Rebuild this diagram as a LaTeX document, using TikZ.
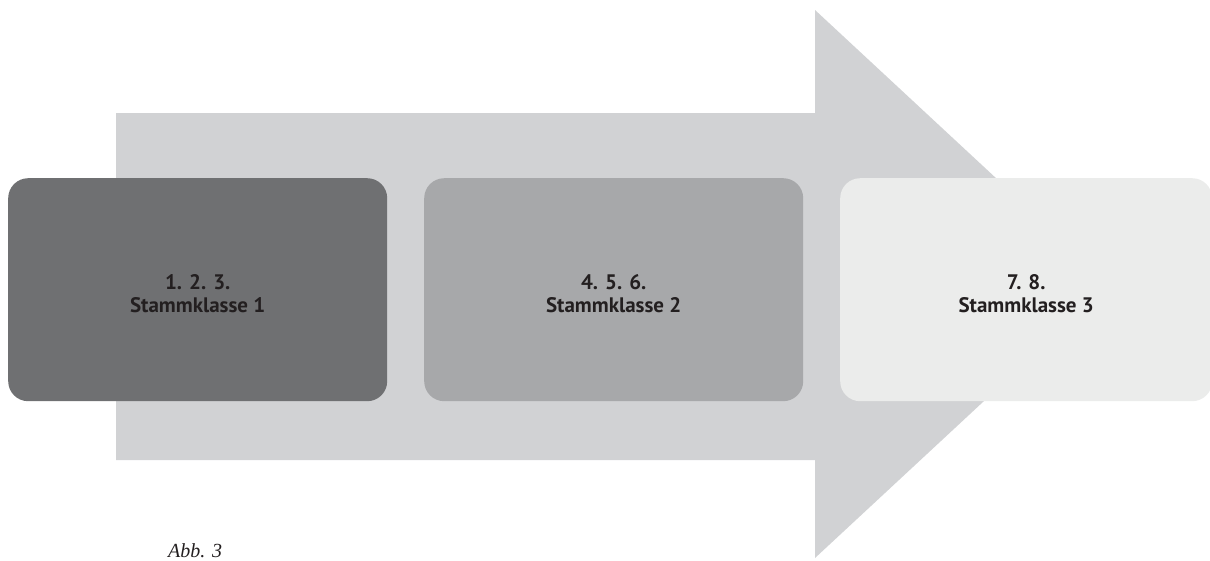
\documentclass[tikz,border=0pt]{standalone}
\usepackage{fontspec}
\setsansfont{PT Sans}
\newfontfamily\capfont{Liberation Serif}
\definecolor{arrowgray}{HTML}{D1D2D4}
\definecolor{boxA}{HTML}{6F7072}
\definecolor{boxB}{HTML}{A7A8AA}
\definecolor{boxC}{HTML}{EBECEB}
\definecolor{txt}{HTML}{231F20}
\tikzset{
  stagebox/.style={rounded corners=20pt, minimum width=379pt, minimum height=223pt,
    inner sep=0pt, anchor=north west},
  stagetext/.style={inner sep=0pt, align=center, text=txt,
    font=\sffamily\bfseries\fontsize{21}{23}\selectfont},
}
\begin{document}
\begin{tikzpicture}[x=1pt,y=-1pt]
\useasboundingbox (0,0) rectangle (1210,560);
\begin{scope}
\clip (0,0) rectangle (1210,560);
\fill[arrowgray] (116,113) -- (815,113) -- (815,10) -- (1110,284) -- (815,558) -- (815,460) -- (116,460) -- cycle;
\node[stagebox, fill=boxA] (s1) at (8,178) {};
\node[stagebox, fill=boxB] (s2) at (424,178) {};
\node[stagebox, fill=boxC, minimum width=372pt] (s3) at (840,178) {};
\end{scope}
\node[stagetext] (t1) at ([yshift=-4pt]s1.center) {1. 2. 3.\\Stammklasse 1};
\node[stagetext] (t2) at ([yshift=-4pt]s2.center) {4. 5. 6.\\Stammklasse 2};
\node[stagetext] (t3) at ([yshift=-4pt]s3.center) {7. 8.\\Stammklasse 3};
\node[anchor=base west, inner sep=0pt, text=txt, font=\capfont\itshape\fontsize{20}{22}\selectfont] (cap) at (168,557) {Abb. 3};
\end{tikzpicture}
\end{document}
